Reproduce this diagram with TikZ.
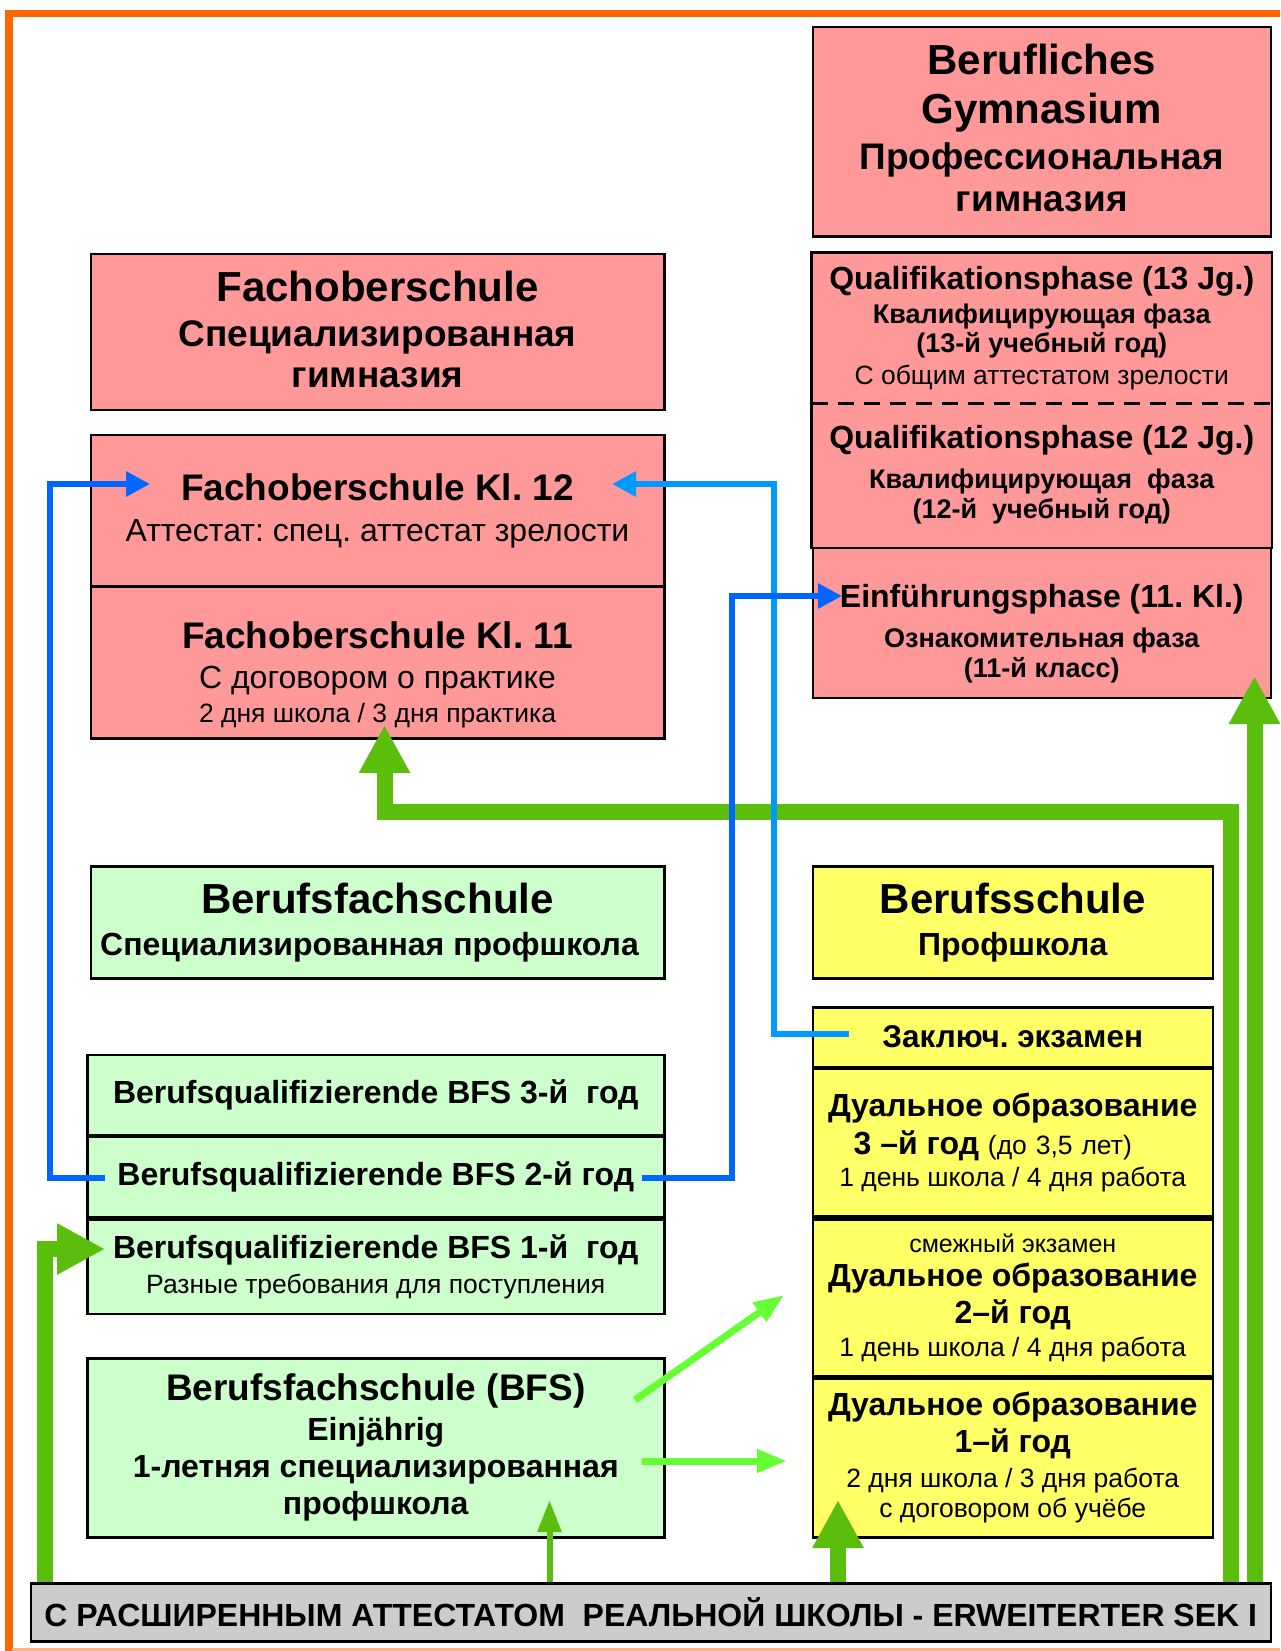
\documentclass[tikz,border=0pt]{standalone}
\usepackage{fontspec}
\setmainfont{Liberation Sans}
\usetikzlibrary{arrows.meta}

\definecolor{boxpink}{HTML}{FF9999}
\definecolor{boxgreen}{HTML}{CCFFCC}
\definecolor{boxyellow}{HTML}{FFFF66}
\definecolor{bargray}{HTML}{CCCCCC}
\definecolor{framecol}{HTML}{FF6600}
\definecolor{framelight}{HTML}{FFB27F}
\definecolor{arrowgreen}{HTML}{5CBE0C}
\definecolor{lightarrow}{HTML}{66FF33}
\definecolor{darkblue}{HTML}{0066FF}
\definecolor{lightblue}{HTML}{0099FF}

% one centred line: size, distance to line above, text
\newcommand{\txtline}[3]{{\fontsize{#1}{#2}\selectfont\spaceskip=\fontdimen2\font\xspaceskip=\fontdimen2\font #3\par}}

\tikzset{
  box/.style={draw=black, line width=2.5pt, anchor=north west, inner sep=0pt, align=flush center},
  pinkbox/.style={box, fill=boxpink},
  greenbox/.style={box, fill=boxgreen},
  yellowbox/.style={box, fill=boxyellow},
  fatgreen/.style={draw=arrowgreen, line width=16pt, -{Triangle[width=48pt,length=48pt]}},
  thingreen/.style={draw=arrowgreen, line width=6pt, -{Triangle[width=23pt,length=32pt]}},
  brightgreen/.style={draw=lightarrow, line width=7pt, -{Triangle[width=22pt,length=30pt]}},
  bluearrow/.style={line width=6pt, -{Triangle[width=24pt,length=24pt]}}
}

\begin{document}
\begin{tikzpicture}[x=1pt,y=-1pt]
\useasboundingbox (0,0) rectangle (1280,1651);
% frame
\draw[framecol, line width=7.5pt] (9,1651) -- (9,13.5) -- (1280,13.5);
\draw[framelight, line width=3pt] (12,1649.5) -- (1280,1649.5);

% Berufliches Gymnasium
\node[pinkbox, minimum width=458pt, minimum height=209pt, text width=446pt] (bg) at (811.5,26) {%
  \txtline{42}{49}{\bfseries Berufliches}
  \txtline{42}{49}{\bfseries Gymnasium}
  \txtline{37}{46}{\bfseries Профессиональная}
  \txtline{37}{42}{\bfseries гимназия\rule[-8pt]{0pt}{8pt}}};
\node[pinkbox, draw=none, minimum width=458pt, minimum height=148.5pt, text width=446pt] (q13) at (811.5,252.5) {%
  \txtline{32}{34}{\bfseries Qualifikationsphase (13 Jg.)}
  \txtline{27}{34}{\bfseries Квалифицирующая фаза}
  \txtline{27}{29}{\bfseries (13-й учебный год)}
  \txtline{26.5}{32}{С общим аттестатом зрелости}};
\node[pinkbox, draw=none, minimum width=458pt, minimum height=144.5pt, text width=446pt] (q12) at (811.5,401) {%
  \txtline{32}{40}{\bfseries Qualifikationsphase (12 Jg.)}
  \txtline{27}{40}{\bfseries Квалифицирующая\ \ фаза}
  \txtline{27}{30.5}{\bfseries (12-й\ \ учебный год)}};
\draw[line width=2.5pt] (q13.north west) rectangle (q12.south east);
\draw[line width=2.5pt, dash pattern=on 16pt off 10pt] (q13.south west) -- (q13.south east);
\node[pinkbox, minimum width=458pt, minimum height=150pt, text width=446pt] (einf) at (811.5,546.5) {%
  \txtline{32}{40}{\rule{0pt}{45pt}\bfseries Einführungsphase (11. Kl.)}
  \txtline{27}{40}{\bfseries Ознакомительная фаза}
  \txtline{27}{30}{\bfseries (11-й класс)}};

% Fachoberschule
\node[pinkbox, minimum width=573.5pt, minimum height=156pt, text width=560pt] (fos) at (89.5,252.5) {%
  \txtline{42}{47}{\bfseries Fachoberschule}
  \txtline{37}{44.5}{\bfseries Специализированная}
  \txtline{37}{41.5}{\bfseries гимназия\rule[-4pt]{0pt}{4pt}}};
\node[pinkbox, minimum width=573.5pt, minimum height=151.5pt, text width=560pt] (fos12) at (89.5,433.5) {%
  \txtline{37}{41}{\bfseries Fachoberschule Kl. 12}
  \txtline{32}{41}{Аттестат: спец. аттестат зрелости}};
\node[pinkbox, minimum width=573.5pt, minimum height=152pt, text width=560pt] (fos11) at (89.5,585) {%
  \txtline{37}{40}{\rule{0pt}{52pt}\bfseries Fachoberschule Kl. 11}
  \txtline{32}{40}{С договором о практике}
  \txtline{26.5}{33.5}{2 дня школа / 3 дня практика}};

% Berufsfachschule
\node[greenbox, minimum width=573.5pt, minimum height=112pt, text width=560pt] (bfs) at (89.5,865) {%
  \txtline{42}{42}{\bfseries Berufsfachschule}
  \txtline{32}{42}{\bfseries Специализированная профшкола\hspace*{16pt}}};
\node[greenbox, minimum width=577pt, minimum height=80pt, text width=565pt] (bfs3) at (86,1053.5) {%
  \txtline{32}{36}{\bfseries Berufsqualifizierende BFS 3-й\ \ год}};
\node[greenbox, minimum width=577pt, minimum height=80pt, text width=565pt] (bfs2) at (86,1135.5) {%
  \txtline{32}{36}{\bfseries Berufsqualifizierende BFS 2-й год}};
\node[greenbox, minimum width=577pt, minimum height=94.5pt, text width=565pt] (bfs1) at (86,1218) {%
  \txtline{32}{35}{\bfseries Berufsqualifizierende BFS 1-й\ \ год}
  \txtline{26.5}{35}{Разные требования для поступления}};
\node[greenbox, minimum width=577pt, minimum height=179pt, text width=565pt] (bfs1y) at (86,1357) {%
  \txtline{37}{40}{\bfseries Berufsfachschule (BFS)}
  \txtline{32}{40}{\bfseries Einjährig}
  \txtline{32}{37}{\bfseries 1-летняя специализированная}
  \txtline{32}{37}{\bfseries профшкола}};

% Berufsschule
\node[yellowbox, minimum width=400pt, minimum height=112pt, text width=390pt] (bs) at (811.5,865) {%
  \txtline{42}{42}{\bfseries Berufsschule}
  \txtline{32}{42}{\bfseries Профшкола}};
\node[yellowbox, minimum width=400pt, minimum height=59.5pt, text width=390pt] (exam) at (811.5,1006) {%
  \txtline{31.5}{34}{\bfseries Заключ. экзамен}};
\node[yellowbox, minimum width=400pt, minimum height=148pt, text width=390pt] (d3) at (811.5,1067) {%
  \txtline{32}{38}{\bfseries Дуальное образование}
  \txtline{32}{38}{\bfseries 3 –й год {\mdseries\fontsize{26.5}{38}\selectfont (до 3,5 лет)}\hspace*{40pt}}
  \txtline{26.5}{32}{1 день школа / 4 дня работа}};
\node[yellowbox, minimum width=400pt, minimum height=157pt, text width=390pt] (d2) at (811.5,1218) {%
  \txtline{25}{34}{смежный экзамен}
  \txtline{32}{34}{\bfseries Дуальное образование}
  \txtline{32}{37}{\bfseries 2–й год}
  \txtline{26.5}{33}{1 день школа / 4 дня работа}};
\node[yellowbox, minimum width=400pt, minimum height=159pt, text width=390pt] (d1) at (811.5,1377) {%
  \txtline{32}{37}{\bfseries Дуальное образование}
  \txtline{32}{37}{\bfseries 1–й год}
  \txtline{26.5}{35}{2 дня школа / 3 дня работа}
  \txtline{26.5}{30}{с договором об учёбе}};

% arrow end points
\coordinate (g1a) at (1231,1582);
\coordinate (g1m) at (800,812);
\coordinate (g1b) at (384.5,725);
\coordinate (g2a) at (1254.5,1582);
\coordinate (g2b) at (1254.5,676);
\coordinate (g3a) at (45,1582);
\coordinate (g3b) at (105,1249);
\coordinate (g4a) at (549.5,1582);
\coordinate (g4b) at (549.5,1500);
\coordinate (g5a) at (838,1582);
\coordinate (g5b) at (838,1500);
\coordinate (l1a) at (635,1400);
\coordinate (l1b) at (784,1295);
\coordinate (l2a) at (642,1461);
\coordinate (l2b) at (787,1461);
\coordinate (b1a) at (105,1178);
\coordinate (b1m) at (49.5,484);
\coordinate (b1b) at (150,484);
\coordinate (b2a) at (642,1178);
\coordinate (b2m) at (732,596);
\coordinate (b2b) at (842,596);
\coordinate (b3a) at (849,1034);
\coordinate (b3m) at (774,484);
\coordinate (b3b) at (612,484);

% green arrows
\draw[fatgreen] (g1a) |- (g1m) -| (g1b);
\draw[fatgreen] (g2a) -- (g2b);
\draw[fatgreen] (g3a) |- (g3b);
\draw[thingreen] (g4a) -- (g4b);
\draw[fatgreen] (g5a) -- (g5b);
\draw[brightgreen] (l1a) -- (l1b);
\draw[brightgreen] (l2a) -- (l2b);

% blue arrows
\draw[bluearrow, draw=lightblue, -{Triangle[width=24pt,length=24pt,fill=lightblue]}] (b3a) -| (b3m) -- (b3b);
\draw[bluearrow, draw=darkblue] (b1a) -| (b1m) -- (b1b);
\draw[bluearrow, draw=darkblue] (b2a) -| (b2m) -- (b2b);

% bottom bar
\node[box, fill=bargray, minimum width=1240pt, minimum height=58pt, text width=1236pt] (bar) at (29.5,1582) {%
  \txtline{32}{34}{\bfseries С РАСШИРЕННЫМ АТТЕСТАТОМ\ \ РЕАЛЬНОЙ ШКОЛЫ - ERWEITERTER SEK I}};
\end{tikzpicture}
\end{document}
